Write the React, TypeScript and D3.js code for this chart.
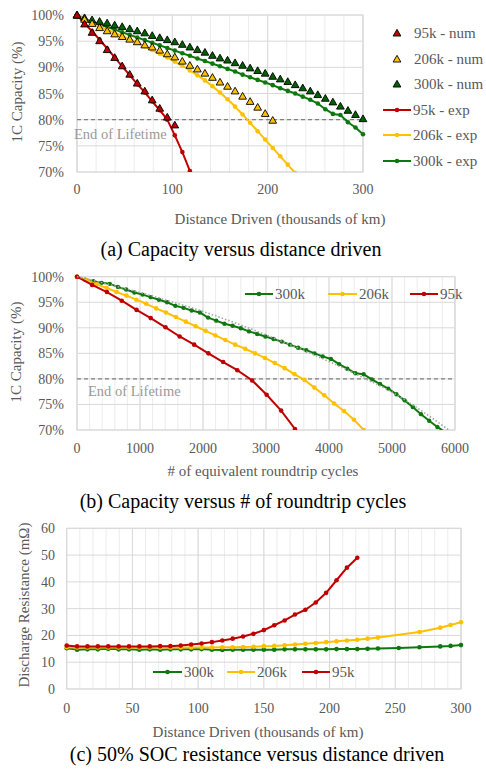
import React from "react";
import * as d3 from "d3";

// ---- (a) capacity vs distance (thousands of km)
const distanceKm = [0, 7.9, 15.8, 23.7, 31.6, 39.5, 47.4, 55.3, 63.2, 71.1, 78.9, 86.8, 94.7, 102.6, 110.5, 118.4, 126.3, 134.2, 142.1, 150.0, 157.9, 165.8, 173.7, 181.6, 189.5, 197.4, 205.3, 213.2, 221.1, 228.9, 236.8, 244.7, 252.6, 260.5, 268.4, 276.3, 284.2, 292.1, 300.0];
const num95 = [100, 98.3, 96.7, 95.1, 93.4, 91.9, 90.3, 88.7, 87.0, 85.5, 83.8, 82.2, 80.5, 79.0];
const num206 = [100, 99.2, 98.4, 97.6, 97.0, 96.4, 95.9, 95.4, 94.9, 94.3, 93.9, 93.3, 92.6, 92.0, 91.2, 90.4, 89.7, 88.9, 88.1, 87.2, 86.4, 85.5, 84.5, 83.5, 82.4, 81.2, 79.9];
const num300 = [100, 99.5, 99.1, 98.8, 98.5, 98.1, 97.8, 97.4, 97.0, 96.6, 96.1, 95.7, 95.3, 94.9, 94.4, 93.9, 93.4, 92.9, 92.3, 91.8, 91.4, 90.9, 90.4, 89.9, 89.4, 88.9, 88.3, 87.8, 87.3, 86.7, 86.1, 85.5, 84.8, 84.1, 83.4, 82.6, 81.8, 81.0, 80.2];
const exp95 = [100, 98.4, 96.9, 95.3, 93.6, 91.9, 90.2, 88.5, 86.8, 85.2, 83.5, 81.8, 80.0, 77.0, 73.8, 70.2];
const exp206 = [100, 99.2, 98.5, 97.8, 97.2, 96.6, 96.0, 95.4, 94.7, 94.0, 93.3, 92.6, 91.9, 91.1, 90.3, 89.4, 88.5, 87.5, 86.4, 85.2, 83.9, 82.5, 81.0, 79.4, 77.8, 76.2, 74.6, 73.0, 71.4, 69.8];
const exp300 = [100, 99.3, 98.7, 98.2, 97.7, 97.2, 96.7, 96.2, 95.7, 95.2, 94.7, 94.2, 93.7, 93.2, 92.7, 92.2, 91.7, 91.2, 90.7, 90.2, 89.7, 89.2, 88.6, 88.1, 87.6, 87.1, 86.6, 86.0, 85.5, 85.0, 84.4, 83.8, 83.1, 82.0, 81.1, 80.9, 79.5, 78.5, 77.2];

// ---- (b) capacity vs roundtrip cycles
const cycles95 = [0, 240, 475, 710, 945, 1170, 1405, 1630, 1860, 2085, 2320, 2545, 2780, 3010, 3240, 3460];
const cap95 = [100, 98.4, 97.0, 95.3, 93.5, 91.9, 90.1, 88.3, 86.7, 85.0, 83.3, 81.7, 79.7, 76.9, 73.8, 70.2];
const cycles206 = [0, 157, 314, 471, 628, 785, 942, 1099, 1256, 1413, 1570, 1727, 1884, 2041, 2198, 2355, 2512, 2669, 2826, 2983, 3140, 3297, 3454, 3611, 3768, 3925, 4082, 4239, 4396, 4553];
const cap206 = [100, 99.3, 98.5, 97.8, 97.0, 96.3, 95.5, 94.7, 93.8, 93.0, 92.1, 91.2, 90.3, 89.4, 88.5, 87.6, 86.7, 85.9, 85.0, 84.1, 83.1, 82.1, 80.9, 79.8, 78.3, 76.8, 75.2, 73.7, 72.0, 70.0];
const cycles300 = [0, 130, 260, 390, 520, 650, 780, 910, 1040, 1170, 1300, 1430, 1560, 1690, 1820, 1950, 2080, 2210, 2340, 2470, 2600, 2730, 2860, 2990, 3120, 3250, 3380, 3510, 3640, 3770, 3900, 4030, 4160, 4290, 4420, 4550, 4680, 4810, 4940, 5070, 5200, 5330, 5460, 5590, 5720, 5850];
const cap300 = [100, 99.4, 99.1, 98.8, 98.6, 98.0, 97.5, 96.9, 96.5, 96.0, 95.5, 95.0, 94.3, 93.9, 93.4, 93.0, 92.0, 91.4, 90.8, 90.4, 89.9, 89.3, 88.8, 88.3, 87.8, 87.3, 86.7, 86.1, 85.6, 85.0, 84.4, 83.9, 82.9, 82.0, 81.1, 80.9, 79.9, 79.0, 78.1, 77.0, 75.8, 74.5, 73.1, 71.8, 70.6, 69.5];
const trendCycles = [0, 500, 1000, 1500, 2000, 2500, 3000, 3500, 4000, 4500, 5000, 5500, 5900];
const trendCap = [100, 98.5, 96.9, 95.1, 93.2, 91.0, 88.6, 86.1, 83.4, 80.5, 77.4, 73.5, 70.0];

// ---- (c) discharge resistance vs distance
const resDist95 = [0, 7.9, 15.8, 23.7, 31.6, 39.5, 47.4, 55.3, 63.2, 71.1, 78.9, 86.8, 94.7, 102.6, 110.5, 118.4, 126.3, 134.2, 142.1, 150.0, 157.9, 165.8, 173.7, 181.6, 189.5, 197.4, 205.3, 213.2, 221.1];
const res95 = [16.2, 15.9, 15.9, 15.9, 15.9, 15.9, 15.9, 15.9, 15.9, 16.0, 16.0, 16.2, 16.6, 17.0, 17.5, 18.1, 18.8, 19.6, 20.6, 22.0, 23.8, 25.6, 27.8, 29.6, 32.3, 35.9, 40.6, 45.3, 49.0];
const resDist206 = [0, 7.9, 15.8, 23.7, 31.6, 39.5, 47.4, 55.3, 63.2, 71.1, 78.9, 86.8, 94.7, 102.6, 110.5, 118.4, 126.3, 134.2, 142.1, 150.0, 157.9, 165.8, 173.7, 181.6, 189.5, 197.4, 205.3, 213.2, 221.1, 228.9, 236.8, 268.4, 284.2, 292.1, 300.0];
const res206 = [15.6, 15.5, 15.5, 15.5, 15.5, 15.5, 15.5, 15.5, 15.5, 15.5, 15.5, 15.5, 15.5, 15.5, 15.5, 15.6, 15.6, 15.7, 15.8, 16.0, 16.1, 16.3, 16.6, 16.9, 17.2, 17.5, 17.8, 18.1, 18.4, 18.8, 19.2, 21.3, 22.9, 23.9, 24.9];
const resDist300 = [0, 7.9, 15.8, 23.7, 31.6, 39.5, 47.4, 55.3, 63.2, 71.1, 78.9, 86.8, 94.7, 102.6, 110.5, 118.4, 126.3, 134.2, 142.1, 150.0, 157.9, 165.8, 173.7, 181.6, 189.5, 197.4, 205.3, 213.2, 221.1, 228.9, 236.8, 252.6, 268.4, 284.2, 292.1, 300.0];
const res300 = [15.2, 14.7, 14.8, 14.8, 15.0, 14.8, 14.8, 14.7, 14.8, 14.7, 14.8, 14.8, 14.8, 14.9, 14.7, 14.6, 14.7, 14.7, 14.7, 14.7, 14.7, 14.8, 14.8, 14.8, 14.8, 14.8, 14.9, 14.9, 14.9, 15.0, 15.1, 15.3, 15.6, 15.9, 16.1, 16.4];

const capTicks = [70, 75, 80, 85, 90, 95, 100];
const distTicks = [0, 100, 200, 300];
const cycleTicks = [0, 1000, 2000, 3000, 4000, 5000, 6000];
const resTicks = [0, 10, 20, 30, 40, 50, 60];
const resDistTicks = [0, 50, 100, 150, 200, 250, 300];

const RED = "#C00000";
const YELLOW = "#FFC000";
const GREEN = "#0E780E";
const GREEN_TRI = "#006100";
const TEXT = "#595959";
const FONT = "'Liberation Serif', 'Times New Roman', serif";
const GRID = "#d9d9d9";
const MINOR = "#ececec";

type Pt = [number, number];
const zip = (xs: number[], ys: number[]): Pt[] => ys.map((y, i) => [xs[i], y]);

function Grid({ x, y, xMinor, xMajor, yTicks }: any) {
  const [x0, x1] = x.range();
  const [y0, y1] = y.range();
  return (
    <g>
      {xMinor.map((v: number) => (
        <line key={"m" + v} x1={x(v)} x2={x(v)} y1={y0} y2={y1} stroke={MINOR} strokeWidth={1} />
      ))}
      {yTicks.map((v: number) => (
        <line key={"h" + v} x1={x0} x2={x1} y1={y(v)} y2={y(v)} stroke={GRID} strokeWidth={1} />
      ))}
      {xMajor.map((v: number) => (
        <line key={"M" + v} x1={x(v)} x2={x(v)} y1={y0} y2={y1} stroke={GRID} strokeWidth={1} />
      ))}
      <rect x={x0} y={y1} width={x1 - x0} height={y0 - y1} fill="none" stroke={GRID} strokeWidth={1} />
    </g>
  );
}

function Series({ pts, x, y, color, r = 2.3, width = 2 }: any) {
  const line = d3.line<Pt>().x((d) => x(d[0])).y((d) => y(d[1]));
  return (
    <g>
      <path d={line(pts) || ""} fill="none" stroke={color} strokeWidth={width} strokeLinejoin="round" />
      {pts.map((d: Pt, i: number) => (
        <circle key={i} cx={x(d[0])} cy={y(d[1])} r={r} fill={color} />
      ))}
    </g>
  );
}

const tri = d3.symbol().type(d3.symbolTriangle).size(26)();

function Triangles({ pts, x, y, color }: any) {
  return (
    <g>
      {pts.map((d: Pt, i: number) => (
        <path key={i} d={tri || ""} transform={`translate(${x(d[0])},${y(d[1]) + 0.8})`} fill={color} stroke="#000" strokeWidth={0.9} />
      ))}
    </g>
  );
}

function LegendLine({ x1, x2, y, color, label }: any) {
  return (
    <g>
      <line x1={x1} x2={x2} y1={y} y2={y} stroke={color} strokeWidth={2} />
      <circle cx={(x1 + x2) / 2} cy={y} r={2.3} fill={color} />
      <text x={x2 + 2} y={y + 5} fontSize={15} fill={TEXT}>{label}</text>
    </g>
  );
}

function PanelA() {
  const x = d3.scaleLinear().domain([0, 300]).range([77, 363]);
  const y = d3.scaleLinear().domain([70, 100]).range([172, 15]);
  const fmt = (v: number) => `${v}%`;
  const leg = [
    { label: "95k - num", color: RED, tri: true },
    { label: "206k - num", color: YELLOW, tri: true },
    { label: "300k - num", color: GREEN_TRI, tri: true },
    { label: "95k - exp", color: RED, tri: false },
    { label: "206k - exp", color: YELLOW, tri: false },
    { label: "300k - exp", color: GREEN, tri: false },
  ];
  const legY = [33, 59, 84, 110, 135, 161];
  return (
    <g>
      <defs>
        <clipPath id="clipA">
          <rect x={70} y={5} width={300} height={167} />
        </clipPath>
      </defs>
      <Grid x={x} y={y} xMinor={d3.range(0, 301, 20)} xMajor={distTicks} yTicks={capTicks} />
      <line x1={x(0)} x2={x(300)} y1={y(80)} y2={y(80)} stroke="#7f7f7f" strokeWidth={1.3} strokeDasharray="4,3" />
      <text x={74} y={139} fontSize={14.5} fill="#9a9a9a">End of Lifetime</text>
      <g clipPath="url(#clipA)">
        <Series pts={zip(distanceKm, exp300)} x={x} y={y} color={GREEN} />
        <Series pts={zip(distanceKm, exp206)} x={x} y={y} color={YELLOW} />
        <Series pts={zip(distanceKm, exp95)} x={x} y={y} color={RED} />
      </g>
      <Triangles pts={zip(distanceKm, num300)} x={x} y={y} color={GREEN_TRI} />
      <Triangles pts={zip(distanceKm, num206)} x={x} y={y} color={YELLOW} />
      <Triangles pts={zip(distanceKm, num95)} x={x} y={y} color={RED} />
      {capTicks.map((v) => (
        <text key={v} x={64} y={y(v) + 5} fontSize={14} fill={TEXT} textAnchor="end">{fmt(v)}</text>
      ))}
      {distTicks.map((v) => (
        <text key={v} x={x(v)} y={194} fontSize={14} fill={TEXT} textAnchor="middle">{v}</text>
      ))}
      <text x={280} y={224} fontSize={15} fill={TEXT} textAnchor="middle">Distance Driven (thousands of km)</text>
      <text transform="translate(22,92) rotate(-90)" fontSize={15} fill={TEXT} textAnchor="middle">1C Capacity (%)</text>
      {leg.map((l, i) =>
        l.tri ? (
          <g key={l.label}>
            <path d={tri || ""} transform={`translate(397,${legY[i] + 0.8})`} fill={l.color} stroke="#000" strokeWidth={0.9} />
            <text x={414} y={legY[i] + 5} fontSize={15} fill={TEXT}>{l.label}</text>
          </g>
        ) : (
          <LegendLine key={l.label} x1={383} x2={411} y={legY[i]} color={l.color} label={l.label} />
        )
      )}
      <text x={241} y={256} fontSize={20} fill="#000" textAnchor="middle">(a) Capacity versus distance driven</text>
    </g>
  );
}

function PanelB() {
  const x = d3.scaleLinear().domain([0, 6000]).range([77, 455]);
  const y = d3.scaleLinear().domain([70, 100]).range([430, 276.7]);
  const trend = d3.line<Pt>().x((d) => x(d[0])).y((d) => y(d[1])).curve(d3.curveMonotoneX);
  return (
    <g>
      <defs>
        <clipPath id="clipB">
          <rect x={70} y={268} width={390} height={162} />
        </clipPath>
      </defs>
      <Grid x={x} y={y} xMinor={d3.range(0, 6001, 200)} xMajor={cycleTicks} yTicks={capTicks} />
      <line x1={x(0)} x2={x(6000)} y1={y(80)} y2={y(80)} stroke="#7f7f7f" strokeWidth={1.3} strokeDasharray="4,3" />
      <text x={88} y={396} fontSize={14.5} fill="#9a9a9a">End of Lifetime</text>
      <g clipPath="url(#clipB)">
        <Series pts={zip(cycles300, cap300)} x={x} y={y} color={GREEN} r={2.2} />
        <Series pts={zip(cycles206, cap206)} x={x} y={y} color={YELLOW} />
        <Series pts={zip(cycles95, cap95)} x={x} y={y} color={RED} />
        <path d={trend(zip(trendCycles, trendCap)) || ""} fill="none" stroke="#a6a6a6" strokeWidth={1.6} strokeDasharray="1.5,2" />
      </g>
      {capTicks.map((v) => (
        <text key={v} x={64} y={y(v) + 5} fontSize={14} fill={TEXT} textAnchor="end">{v}%</text>
      ))}
      {cycleTicks.map((v) => (
        <text key={v} x={x(v)} y={453} fontSize={14} fill={TEXT} textAnchor="middle">{v}</text>
      ))}
      <text x={263} y={476} fontSize={15} fill={TEXT} textAnchor="middle"># of equivalent roundtrip cycles</text>
      <text transform="translate(21,352) rotate(-90)" fontSize={15} fill={TEXT} textAnchor="middle">1C Capacity (%)</text>
      <LegendLine x1={245} x2={273} y={294} color={GREEN} label="300k" />
      <LegendLine x1={328} x2={357} y={294} color={YELLOW} label="206k" />
      <LegendLine x1={410} x2={438} y={294} color={RED} label="95k" />
      <text x={243} y={508} fontSize={20} fill="#000" textAnchor="middle">(b) Capacity versus # of roundtrip cycles</text>
    </g>
  );
}

function PanelC() {
  const x = d3.scaleLinear().domain([0, 300]).range([66.7, 461]);
  const y = d3.scaleLinear().domain([0, 60]).range([689, 528.3]);
  return (
    <g>
      <Grid x={x} y={y} xMinor={d3.range(0, 301, 10)} xMajor={resDistTicks} yTicks={resTicks} />
      <Series pts={zip(resDist300, res300)} x={x} y={y} color={GREEN} />
      <Series pts={zip(resDist206, res206)} x={x} y={y} color={YELLOW} />
      <Series pts={zip(resDist95, res95)} x={x} y={y} color={RED} />
      {resTicks.map((v) => (
        <text key={v} x={55} y={y(v) + 5} fontSize={14} fill={TEXT} textAnchor="end">{v}</text>
      ))}
      {resDistTicks.map((v) => (
        <text key={v} x={x(v)} y={713} fontSize={14} fill={TEXT} textAnchor="middle">{v}</text>
      ))}
      <text x={258} y={737} fontSize={15} fill={TEXT} textAnchor="middle">Distance Driven (thousands of km)</text>
      <text transform="translate(29,605) rotate(-90)" fontSize={15} fill={TEXT} textAnchor="middle">Discharge Resistance (mΩ)</text>
      <LegendLine x1={153} x2={182} y={672} color={GREEN} label="300k" />
      <LegendLine x1={227} x2={255} y={672} color={YELLOW} label="206k" />
      <LegendLine x1={302} x2={330} y={672} color={RED} label="95k" />
      <text x={257} y={761} fontSize={20} fill="#000" textAnchor="middle">(c) 50% SOC resistance versus distance driven</text>
    </g>
  );
}

export default function App() {
  return (
    <div style={{ position: "absolute", left: 0, top: 0 }}>
      <svg width={486} height={774} style={{ display: "block", background: "#fff", fontFamily: FONT }}>
        <PanelA />
        <PanelB />
        <PanelC />
      </svg>
    </div>
  );
}
